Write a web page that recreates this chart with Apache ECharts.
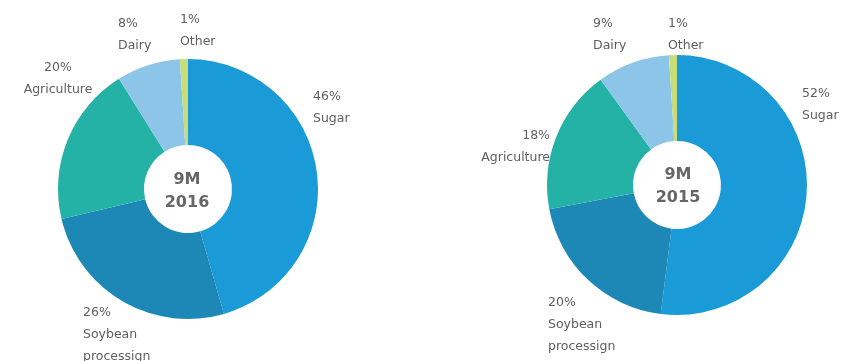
<!DOCTYPE html>
<html>
<head>
<meta charset="utf-8">
<script src="https://cdn.jsdelivr.net/npm/echarts@6/dist/echarts.min.js"></script>
<style>
html,body{margin:0;padding:0;background:#fff;}
#chart{width:851px;height:361px;}
</style>
</head>
<body>
<div id="chart"></div>
<script>
const categories = ['Sugar', 'Soybean\nprocessign', 'Agriculture', 'Dairy', 'Other'];
const values2016 = [46, 26, 20, 8, 1];
const values2015 = [52, 20, 18, 9, 1];
const centerLabels = ['9M\n2016', '9M\n2015'];
const colors = ['#1b9ad8', '#1d87b6', '#24b1a6', '#8cc5e8', '#c8dc78'];

function buildData(vals) {
  return categories.map((c, i) => ({ name: c, value: vals[i] }));
}

// label placement relative to each pie centre: [dx, dy, align]
const centers = [[188, 189], [677, 185]];
const labelOffsets = [
  [[125, -81, 'left'], [-105, 146, 'left'], [-130, -110, 'center'], [-70, -154, 'left'], [-8, -158, 'left']],
  [[125, -80, 'left'], [-129, 140, 'left'], [-127, -38, 'right'], [-84, -150, 'left'], [-9, -150, 'left']]
];

function pieSeries(vals, si) {
  return {
    type: 'pie',
    center: centers[si],
    radius: [44, 130],
    startAngle: 90,
    clockwise: true,
    avoidLabelOverlap: false,
    label: {
      show: true,
      position: 'outside',
      formatter: '{c}%\n{b}',
      color: '#5e5e5e',
      fontFamily: 'DejaVu Sans',
      fontSize: 12.5,
      lineHeight: 22,
      align: 'left'
    },
    labelLine: { show: false },
    labelLayout: function (p) {
      const o = labelOffsets[si][p.dataIndex];
      return { x: centers[si][0] + o[0], y: centers[si][1] + o[1], align: o[2], verticalAlign: 'middle' };
    },
    itemStyle: { borderWidth: 0 },
    emphasis: { disabled: true },
    data: buildData(vals)
  };
}

const chart = echarts.init(document.getElementById('chart'), null, { renderer: 'canvas' });
chart.setOption({
  animation: false,
  color: colors,
  graphic: [
    { type: 'text', x: 187, y: 191, style: { text: centerLabels[0], fill: '#666', font: 'bold 16px "DejaVu Sans"', lineHeight: 23, align: 'center', verticalAlign: 'middle' } },
    { type: 'text', x: 678, y: 186, style: { text: centerLabels[1], fill: '#666', font: 'bold 16px "DejaVu Sans"', lineHeight: 23, align: 'center', verticalAlign: 'middle' } }
  ],
  series: [
    pieSeries(values2016, 0),
    pieSeries(values2015, 1)
  ]
});
</script>
</body>
</html>
